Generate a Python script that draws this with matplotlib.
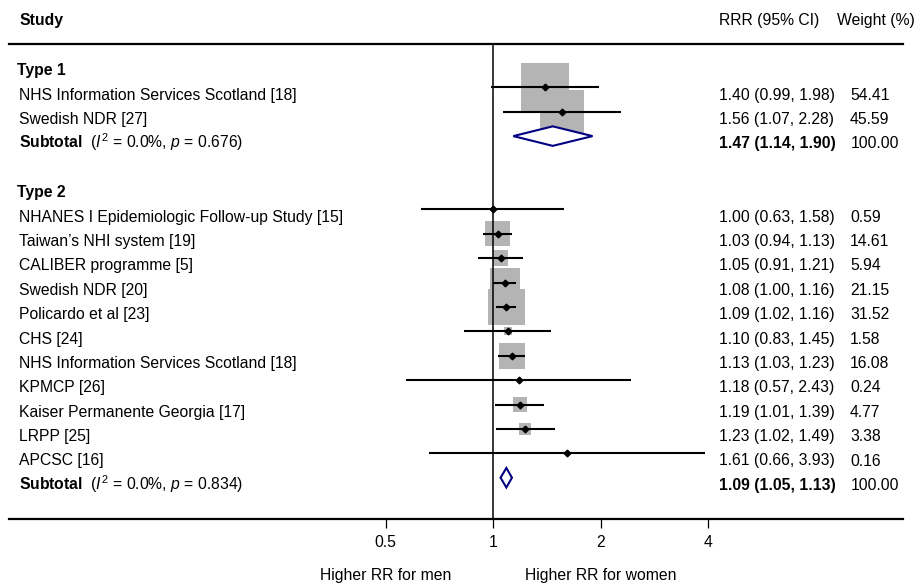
import numpy as np
import matplotlib
matplotlib.use("Agg")
import matplotlib.pyplot as plt
import matplotlib.transforms as mtransforms

plt.rcParams['font.family'] = ['Liberation Sans', 'DejaVu Sans']
plt.rcParams['mathtext.fontset'] = 'custom'
plt.rcParams['mathtext.rm'] = 'Liberation Sans'
plt.rcParams['mathtext.it'] = 'Liberation Sans:italic'
plt.rcParams['mathtext.bf'] = 'Liberation Sans:bold'

# study data
type1_names = ["NHS Information Services Scotland [18]", "Swedish NDR [27]"]
type1_rrr = [1.40, 1.56]
type1_lo = [0.99, 1.07]
type1_hi = [1.98, 2.28]
type1_weight = [54.41, 45.59]
type1_sub = [1.47, 1.14, 1.90]
type1_stats = "0.0%", "0.676"

type2_names = ["NHANES I Epidemiologic Follow-up Study [15]", "Taiwan\u2019s NHI system [19]",
               "CALIBER programme [5]", "Swedish NDR [20]", "Policardo et al [23]", "CHS [24]",
               "NHS Information Services Scotland [18]", "KPMCP [26]",
               "Kaiser Permanente Georgia [17]", "LRPP [25]", "APCSC [16]"]
type2_rrr = [1.00, 1.03, 1.05, 1.08, 1.09, 1.10, 1.13, 1.18, 1.19, 1.23, 1.61]
type2_lo = [0.63, 0.94, 0.91, 1.00, 1.02, 0.83, 1.03, 0.57, 1.01, 1.02, 0.66]
type2_hi = [1.58, 1.13, 1.21, 1.16, 1.16, 1.45, 1.23, 2.43, 1.39, 1.49, 3.93]
type2_weight = [0.59, 14.61, 5.94, 21.15, 31.52, 1.58, 16.08, 0.24, 4.77, 3.38, 0.16]
type2_sub = [1.09, 1.05, 1.13]
type2_stats = "0.0%", "0.834"

xticks = [0.5, 1, 2, 4]

W, H = 919, 588
fig = plt.figure(figsize=(W / 100, H / 100), dpi=100)
ax = fig.add_axes([0, 0, 1, 1])
ax.set_xscale('log', base=2)

# pixel layout: x=1 at 493 px, 107.5 px per doubling; rows 24.4 px apart
x0, ppd = 493, 107.5
ax.set_xlim(2 ** ((0 - x0) / ppd), 2 ** ((W - x0) / ppd))
r0, rh = 62.9, 24.4
ax.set_ylim((H - r0) / rh, -r0 / rh)

fs = 11.3
box_color = '#b4b4b4'
navy = '#000080'
trans = mtransforms.blended_transform_factory(ax.transAxes, ax.transData)

def px(p):
    return p / W

top_r = (44 - r0) / rh
bot_r = (519 - r0) / rh
head_r = (25 - r0) / rh
off = 0.5

def draw_group(start, title, names, rrr, lo, hi, weight, sub, stats):
    rows = np.arange(start + 1, start + 1 + len(names))
    ax.text(px(17), start + off, title, transform=trans, fontsize=fs, fontweight='bold')
    ax.scatter(rrr, rows, marker='s', s=np.array(weight) * 21.9, color=box_color,
               linewidths=0, zorder=1)
    ax.hlines(rows, lo, hi, color='black', lw=1.5, zorder=2)
    ax.plot(rrr, rows, 'D', color='black', markersize=3.4, zorder=3)
    for r, n, e, l, h, w in zip(rows, names, rrr, lo, hi, weight):
        ax.text(px(19), r + off, n, transform=trans, fontsize=fs)
        ax.text(px(719), r + off, f"{e:.2f} ({l:.2f}, {h:.2f})", transform=trans, fontsize=fs)
        ax.text(px(850), r + off, f"{w:.2f}", transform=trans, fontsize=fs)
    sr = start + 1 + len(names)
    est, slo, shi = sub
    dx = [slo, est, shi, est, slo]
    dh = 0.4
    dy = [sr, sr - dh, sr, sr + dh, sr]
    ax.fill(dx, dy, facecolor='white', edgecolor=navy, lw=1.5, zorder=4)
    ax.text(px(19), sr + off,
            r"$\mathbf{Subtotal}$  ($I^2$ = %s, $p$ = %s)" % (stats[0], stats[1]),
            transform=trans, fontsize=fs)
    ax.text(px(719), sr + off, f"{est:.2f} ({slo:.2f}, {shi:.2f})", transform=trans,
            fontsize=fs, fontweight='bold')
    ax.text(px(851), sr + off, "100.00", transform=trans, fontsize=fs)
    return sr

end1 = draw_group(0, "Type 1", type1_names, type1_rrr, type1_lo, type1_hi, type1_weight,
                  type1_sub, type1_stats)
draw_group(end1 + 2, "Type 2", type2_names, type2_rrr, type2_lo, type2_hi, type2_weight,
           type2_sub, type2_stats)

# header
ax.text(px(20), head_r, "Study", transform=trans, fontsize=fs, fontweight='bold')
ax.text(px(719), head_r, "RRR (95% CI)", transform=trans, fontsize=fs)
ax.text(px(837), head_r, "Weight (%)", transform=trans, fontsize=fs)

# rules and null line
ax.axhline(top_r, xmin=px(9), xmax=px(903), color='black', lw=1.6)
ax.vlines(1, top_r, bot_r, color='black', lw=1.1)

for s in ['top', 'left', 'right']:
    ax.spines[s].set_visible(False)
xl = ax.get_xlim()
ax.spines['bottom'].set_position(('data', bot_r))
ax.spines['bottom'].set_bounds(xl[0] * (xl[1] / xl[0]) ** px(9), xl[0] * (xl[1] / xl[0]) ** px(903))
ax.spines['bottom'].set_linewidth(1.6)
ax.set_xticks(xticks)
ax.set_xticklabels([str(t) for t in xticks])
ax.xaxis.set_minor_locator(matplotlib.ticker.NullLocator())
ax.tick_params(axis='x', direction='out', length=6.5, width=0.9, labelsize=fs, pad=5)
ax.set_yticks([])

lab_r = (580 - r0) / rh
ax.text(0.5, lab_r, "Higher RR for men", ha='center', fontsize=fs)
ax.text(2, lab_r, "Higher RR for women", ha='center', fontsize=fs)

fig.savefig("out.png", dpi=100)
